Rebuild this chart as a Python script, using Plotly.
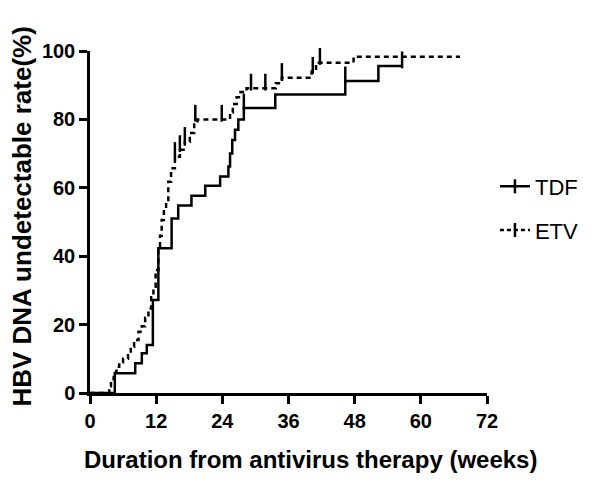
import plotly.graph_objects as go

# Step data: time (weeks) and cumulative HBV DNA undetectable rate (%)
tdf_weeks = [0, 4.5, 8.2, 9.4, 10.3, 11.4, 12.4, 14.8, 16.0, 18.4, 20.9, 23.6,
             25.1, 25.4, 25.8, 26.3, 26.9, 27.9, 33.6, 46.3, 52.3, 56.6]
tdf_rate = [0, 5.8, 8.7, 11.6, 14.0, 27.2, 42.3, 51.0, 54.8, 57.7, 60.6, 63.3,
            66.2, 70.0, 74.0, 77.0, 80.0, 83.3, 87.3, 91.2, 95.6, 95.6]
tdf_censor_weeks = [27.9, 46.3, 56.6]
tdf_censor_rate = [83.3, 91.2, 95.6]

etv_weeks = [0, 3.5, 3.8, 4.3, 4.8, 5.3, 6.0, 6.9, 7.4, 8.0, 8.8, 9.4, 10.0, 10.6,
             11.1, 11.5, 11.9, 12.4, 12.7, 13.0, 13.4, 13.8, 14.2, 14.7, 15.4,
             16.3, 17.2, 18.1, 18.9, 19.5, 25.4, 25.9, 26.6, 27.3, 28.4, 33.7,
             34.8, 40.2, 41.0, 47.8, 67.1]
etv_rate = [0, 2.0, 4.0, 6.0, 7.7, 9.0, 10.0, 11.6, 13.5, 15.5, 17.9, 19.5, 22.0,
            24.7, 28.0, 31.1, 36.0, 41.8, 46.0, 50.6, 54.0, 56.4, 61.8, 65.7,
            69.1, 71.1, 73.5, 76.0, 78.9, 80.0, 82.0, 84.5, 86.5, 88.0, 89.1,
            90.6, 92.2, 94.0, 96.6, 98.3, 98.3]
etv_censor_weeks = [15.4, 16.3, 17.2, 19.1, 23.9, 29.2, 31.8, 34.8, 40.4, 41.7,
                    47.8, 56.7, 67.1]
etv_censor_rate = [69.1, 71.1, 73.5, 80.0, 80.0, 89.1, 89.1, 92.2, 94.0, 96.6,
                   98.3, 98.3, 98.3]

x_ticks = [0, 12, 24, 36, 48, 60, 72]
y_ticks = [0, 20, 40, 60, 80, 100]

x_title = "Duration from antivirus therapy (weeks)"
y_title = "HBV DNA undetectable rate(%)"

TICK_UP = 1.8  # half of the upward censor tick, in % units
LW = 2.5

fig = go.Figure()

fig.add_trace(go.Scatter(x=tdf_weeks, y=tdf_rate, mode="lines", line_shape="hv",
                         line=dict(color="black", width=LW), showlegend=False,
                         hoverinfo="skip"))
fig.add_trace(go.Scatter(x=etv_weeks, y=etv_rate, mode="lines", line_shape="hv",
                         line=dict(color="black", width=LW, dash="5px,4px"),
                         showlegend=False, hoverinfo="skip"))

# censor ticks (drawn upward from the curve)
for xs, ys in [(tdf_censor_weeks, tdf_censor_rate), (etv_censor_weeks, etv_censor_rate)]:
    fig.add_trace(go.Scatter(x=xs, y=[v + TICK_UP for v in ys], mode="markers",
                             marker=dict(symbol="line-ns", size=12,
                                         line=dict(color="black", width=LW)),
                             cliponaxis=False, showlegend=False, hoverinfo="skip"))

# legend entries
fig.add_trace(go.Scatter(x=[None], y=[None], mode="lines+markers", name="TDF",
                         legendgroup="a",
                         line=dict(color="black", width=LW),
                         marker=dict(symbol="line-ns", size=10,
                                     line=dict(color="black", width=LW))))
fig.add_trace(go.Scatter(x=[None], y=[None], mode="lines+markers", name="ETV",
                         legendgroup="b",
                         line=dict(color="black", width=LW, dash="4px,3px"),
                         marker=dict(symbol="line-ns", size=10,
                                     line=dict(color="black", width=LW))))

font_family = "Liberation Sans, Arial, sans-serif"

fig.update_layout(
    width=600, height=484,
    paper_bgcolor="white", plot_bgcolor="white",
    margin=dict(l=82, r=121, t=43, b=99),
    font=dict(family=font_family, color="black"),
    showlegend=True,
    legend=dict(x=1.02, y=0.665, xanchor="left", yanchor="top",
                font=dict(size=22, color="black"), tracegroupgap=12,
                bgcolor="rgba(0,0,0,0)"),
    xaxis=dict(range=[0, 72], tickvals=x_ticks, ticktext=[str(v) for v in x_ticks],
               showline=True, linecolor="black", linewidth=LW, mirror=False,
               ticks="outside", ticklen=8, tickwidth=LW, tickcolor="black",
               showgrid=False, zeroline=False,
               tickfont=dict(size=20, family=font_family, weight="bold")),
    yaxis=dict(range=[0, 100], tickvals=y_ticks, ticktext=[str(v) for v in y_ticks],
               showline=True, linecolor="black", linewidth=LW,
               ticks="outside", ticklen=8, tickwidth=LW, tickcolor="black",
               showgrid=False, zeroline=False,
               tickfont=dict(size=20, family=font_family, weight="bold")),
    annotations=[
        dict(text=x_title, xref="paper", yref="paper", x=0.555, y=-0.195,
             xanchor="center", yanchor="middle", showarrow=False,
             font=dict(size=24, family=font_family, weight="bold", color="black")),
        dict(text=y_title, xref="paper", yref="paper", x=-0.172, y=0.515,
             xanchor="center", yanchor="middle", showarrow=False, textangle=-90,
             font=dict(size=26, family=font_family, weight="bold", color="black")),
    ],
)

fig.write_html("out.html")
